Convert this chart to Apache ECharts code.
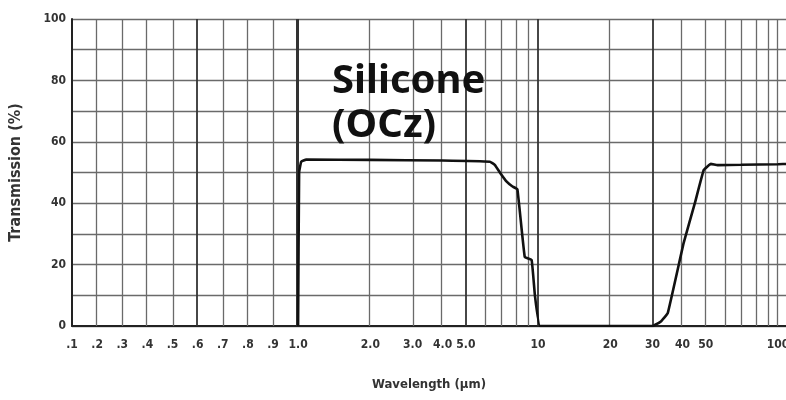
<!DOCTYPE html>
<html>
<head>
<meta charset="utf-8">
<script src="https://cdn.jsdelivr.net/npm/echarts@6/dist/echarts.min.js"></script>
<style>
  html, body { margin: 0; padding: 0; background: #fff; }
  #chart { width: 786px; height: 400px; }
</style>
</head>
<body>
<div id="chart"></div>
<script>
// wavelength (um) and transmission (%)
const wavelengths = [1.0, 1.01, 1.03, 1.08, 2.0, 4.0, 6.3, 6.6, 7.0, 7.4, 7.8, 8.2, 8.8, 9.4, 9.7, 10.2, 20, 30, 32.5, 34.7, 40.4, 45, 49, 52.5, 56, 70, 100, 110];
const transmission = [0, 50, 53.5, 54.2, 54.1, 53.9, 53.5, 52.5, 49.5, 47, 45.5, 44.5, 22.5, 21.5, 10, 0, 0, 0, 1.5, 4.2, 27, 40, 50.8, 52.8, 52.4, 52.5, 52.7, 52.8];

// tick labels under the axis
const tickWavelengths = [0.1, 0.2, 0.3, 0.4, 0.5, 0.6, 0.7, 0.8, 0.9, 1.0, 2.0, 3.0, 4.0, 5.0, 10, 20, 30, 40, 50, 100];
const tickLabels = ['.1', '.2', '.3', '.4', '.5', '.6', '.7', '.8', '.9', '1.0', '2.0', '3.0', '4.0', '5.0', '10', '20', '30', '40', '50', '100'];

// vertical grid lines
const gridWavelengths = [0.2, 0.3, 0.4, 0.5, 0.6, 0.7, 0.8, 0.9, 1.0, 2, 3, 4, 5, 6, 7, 8, 9, 10, 20, 30, 40, 50, 60, 70, 80, 90, 100];
const heavyWavelengths = [0.6, 5, 10, 30];

// the paper's scale: linear from .1 to 1.0, then log per decade
const LIN = 0.942;
function u(w) {
  return w <= 1 ? (w - 0.1) / 0.9 * LIN : LIN + Math.log10(w);
}

const font = "'DejaVu Sans Condensed', 'DejaVu Sans', sans-serif";
const chart = echarts.init(document.getElementById('chart'));

const tickU = tickWavelengths.map(u);

chart.setOption({
  animation: false,
  backgroundColor: '#fff',
  title: {
    text: 'Silicone\n(OCz)',
    left: 327,
    top: 55,
    textStyle: {
      fontFamily: "'Noto Sans', sans-serif",
      fontWeight: 'bold',
      fontSize: 40,
      lineHeight: 44,
      color: '#111'
    }
  },
  grid: { left: 72, right: 0, top: 19, bottom: 74, outerBoundsMode: 'none' },
  xAxis: {
    type: 'value',
    min: 0,
    max: 2.975,
    name: 'Wavelength (µm)',
    nameLocation: 'middle',
    nameGap: 52,
    nameTextStyle: { fontFamily: font, fontWeight: 'bold', fontSize: 13, color: '#333' },
    axisLine: { lineStyle: { color: '#222', width: 2 } },
    axisTick: { show: false },
    splitLine: { show: false },
    axisLabel: {
      customValues: tickU,
      fontFamily: font,
      fontWeight: 'bold',
      fontSize: 12,
      color: '#333',
      margin: 13,
      formatter: function (v) {
        const i = tickU.findIndex(t => Math.abs(t - v) < 1e-6);
        return i >= 0 ? tickLabels[i] : '';
      }
    }
  },
  yAxis: {
    type: 'value',
    min: 0,
    max: 100,
    interval: 10,
    name: 'Transmission (%)',
    nameLocation: 'middle',
    nameGap: 48,
    nameTextStyle: { fontFamily: font, fontWeight: 'bold', fontSize: 16, color: '#333' },
    axisLine: { show: true, lineStyle: { color: '#222', width: 2 } },
    axisTick: { show: false },
    splitLine: { lineStyle: { color: '#6a6a6a', width: 1.3 } },
    axisLabel: {
      fontFamily: font,
      fontWeight: 'bold',
      fontSize: 12,
      color: '#333',
      margin: 6,
      formatter: v => (v % 20 === 0 ? String(v) : '')
    }
  },
  series: [
    {
      type: 'line',
      data: [],
      silent: true,
      markLine: {
        silent: true,
        symbol: 'none',
        label: { show: false },
        lineStyle: { color: '#6a6a6a', width: 1.3, type: 'solid' },
        data: gridWavelengths.map(w => ({
          xAxis: u(w),
          lineStyle: {
            color: heavyWavelengths.includes(w) || w === 1.0 ? '#333' : '#6a6a6a',
            width: w === 1.0 ? 3 : (heavyWavelengths.includes(w) ? 1.8 : 1.3)
          }
        }))
      }
    },
    {
      type: 'line',
      data: wavelengths.map((w, i) => [u(w), transmission[i]]),
      showSymbol: false,
      smooth: 0.08,
      lineStyle: { color: '#111', width: 2.6 },
      z: 5
    }
  ]
});
</script>
</body>
</html>
